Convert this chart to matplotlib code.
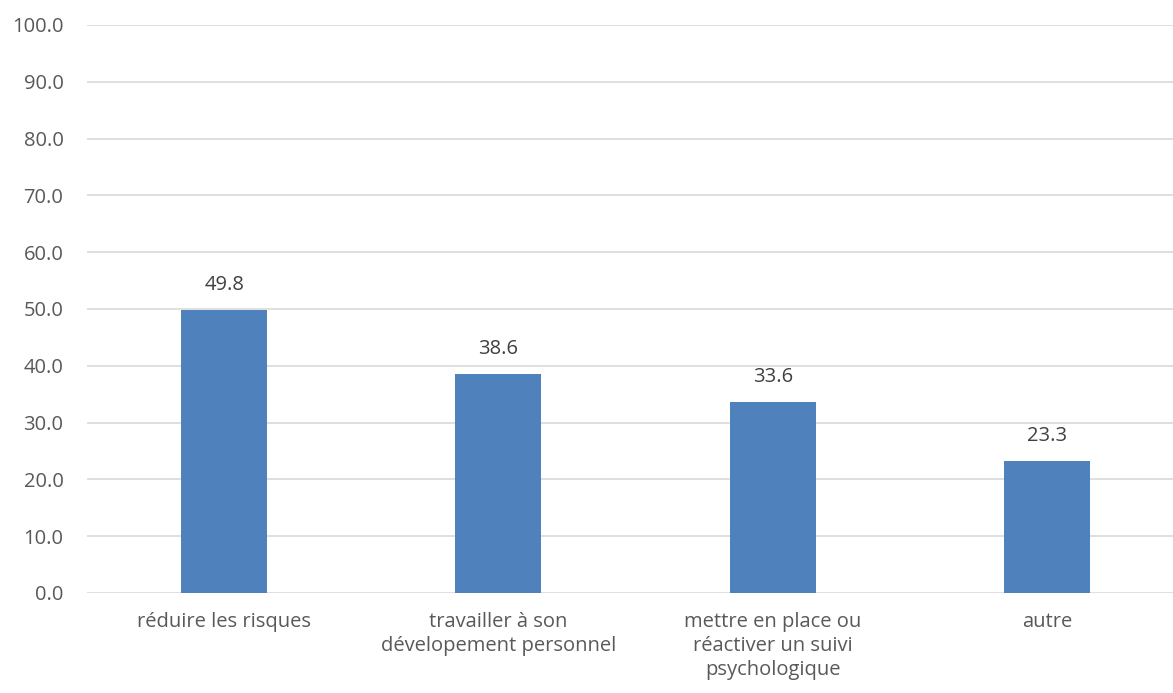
import matplotlib.pyplot as plt

categories = ["réduire les risques",
              "travailler à son\ndévelopement personnel",
              "mettre en place ou\nréactiver un suivi\npsychologique",
              "autre"]
values = [49.8, 38.6, 33.6, 23.3]
yticks = [0, 10, 20, 30, 40, 50, 60, 70, 80, 90, 100]

plt.rcParams['font.family'] = ['Open Sans', 'DejaVu Sans']
txt = '#595959'
fs = 14.5

W, H = 1173, 693
fig = plt.figure(figsize=(W / 100, H / 100), dpi=100)
# axes run a little past the right edge, like the gridlines do
left, right, bottom, top = 87, 1184, 593, 25
ax = fig.add_axes([left / W, (H - bottom) / H, (right - left) / W, (bottom - top) / H])

x = range(len(values))
ax.bar(x, values, width=0.314, color='#4F81BD', zorder=3)
for i, v in zip(x, values):
    ax.text(i, v + 2.6, f"{v:.1f}", ha='center', va='bottom', fontsize=fs, color='#404040')

ax.set_xlim(-0.5, 3.5)
ax.set_ylim(0, 100)
ax.set_yticks(yticks)
ax.set_yticklabels([f"{t:.1f}" for t in yticks], fontsize=fs, color=txt)
ax.set_xticks(list(x))
ax.set_xticklabels(categories, fontsize=fs, color=txt, linespacing=1.25)
ax.tick_params(length=0)
ax.tick_params(axis='y', pad=17)
ax.tick_params(axis='x', pad=14)
ax.grid(axis='y', color='#D9D9D9', linewidth=1.2, zorder=0)
for s in ax.spines.values():
    s.set_visible(False)

fig.savefig("out.png", dpi=100)
